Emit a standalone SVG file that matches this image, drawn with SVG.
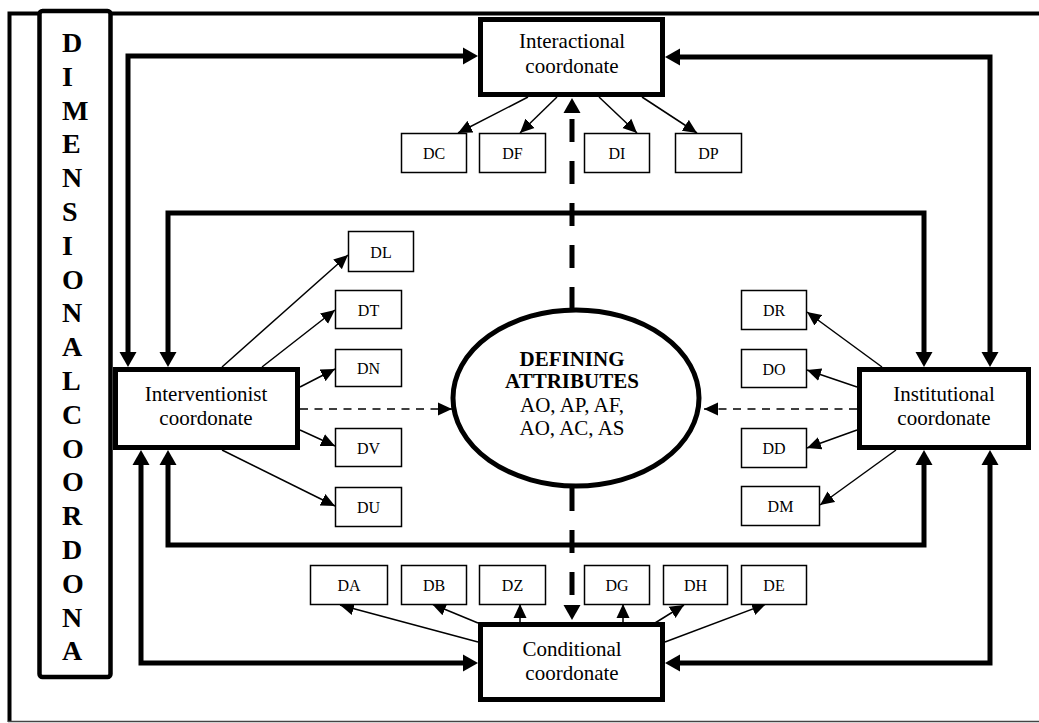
<svg xmlns="http://www.w3.org/2000/svg" width="1039" height="723" viewBox="0 0 1039 723">
<style>
.frame{fill:none;stroke:#000;stroke-width:4}
.big{fill:#fff;stroke:#000;stroke-width:5}
.small{fill:#fff;stroke:#000;stroke-width:1.5}
.thick{fill:none;stroke:#000;stroke-width:5;stroke-linejoin:miter;marker-start:url(#ah);marker-end:url(#ah)}
.thin{fill:none;stroke:#000;stroke-width:1.5;marker-end:url(#as)}
.dthin{fill:none;stroke:#000;stroke-width:1.5;stroke-dasharray:8 6.5;marker-end:url(#as)}
.dthick{fill:none;stroke:#000;stroke-width:5;stroke-dasharray:23 19;marker-end:url(#ah)}
.t{font-family:"Liberation Serif","Times New Roman",serif;font-size:21px;text-anchor:middle;fill:#000}
.b{font-weight:bold}
.s{font-family:"Liberation Serif","Times New Roman",serif;font-size:16px;text-anchor:middle;fill:#000}
.v{font-family:"Liberation Serif","Times New Roman",serif;font-size:28px;font-weight:bold;fill:#000}
</style>
<defs>
<marker id="ah" viewBox="0 -9 16 18" markerWidth="16" markerHeight="18" refX="0" refY="0" orient="auto-start-reverse" markerUnits="userSpaceOnUse">
<path d="M0,-8.5 L15,0 L0,8.5 Z" fill="#000"/>
</marker>
<marker id="as" viewBox="0 -7 14 14" markerWidth="14" markerHeight="14" refX="14" refY="0" orient="auto" markerUnits="userSpaceOnUse">
<path d="M0,-6.5 L14,0 L0,6.5 Z" fill="#000"/>
</marker>
</defs>
<rect width="1039" height="723" fill="#fff"/>
<g id="frame">
<path class="frame" d="M9.5,722 L9.5,13.5 L1039,13.5"/>
<line x1="8" y1="721.5" x2="1039" y2="721.5" stroke="#444" stroke-width="1.5"/>
</g>
<g id="dimension">
<rect x="39.5" y="11" width="71" height="666" rx="3" fill="#fff" stroke="#000" stroke-width="4.5"/>
<text class="v" x="62" y="52">D</text>
<text class="v" x="62" y="85.8">I</text>
<text class="v" x="62" y="119.6">M</text>
<text class="v" x="62" y="153.4">E</text>
<text class="v" x="62" y="187.2">N</text>
<text class="v" x="62" y="221">S</text>
<text class="v" x="62" y="254.8">I</text>
<text class="v" x="62" y="288.6">O</text>
<text class="v" x="62" y="322.4">N</text>
<text class="v" x="62" y="356.2">A</text>
<text class="v" x="62" y="390">L</text>
<text class="v" x="62" y="423.8">C</text>
<text class="v" x="62" y="457.6">O</text>
<text class="v" x="62" y="491.4">O</text>
<text class="v" x="62" y="525.2">R</text>
<text class="v" x="62" y="559">D</text>
<text class="v" x="62" y="592.8">O</text>
<text class="v" x="62" y="626.6">N</text>
<text class="v" x="62" y="660.4">A</text>
</g>
<g id="connectors">
<path class="thick" d="M128,352 L128,56 L463,56"/>
<path class="thick" d="M990,352 L990,57 L680,57"/>
<path class="thick" d="M168,352 L168,213 L924,213 L924,352"/>
<path class="thick" d="M168,465 L168,545 L924,545 L924,465"/>
<path class="thick" d="M141,465 L141,663 L463,663"/>
<path class="thick" d="M990,465 L990,663 L680,663"/>
<path class="dthick" d="M572,310 L572,113"/>
<path class="dthick" d="M572,488 L572,605"/>
<path class="dthin" d="M300,409 L452,409"/>
<path class="dthin" d="M857,409 L704,409"/>
<path class="thin" d="M528,97 L458,133"/>
<path class="thin" d="M557,97 L520,133"/>
<path class="thin" d="M599,97 L637,133"/>
<path class="thin" d="M642,97 L697,133"/>
<path class="thin" d="M222,367 L348,255"/>
<path class="thin" d="M262,367 L335,310"/>
<path class="thin" d="M300,387 L335,369"/>
<path class="thin" d="M300,430 L335,446"/>
<path class="thin" d="M222,450 L335,506"/>
<path class="thin" d="M882,367 L807,312"/>
<path class="thin" d="M857,387 L807,370"/>
<path class="thin" d="M857,430 L807,448"/>
<path class="thin" d="M896,450 L820,505"/>
<path class="thin" d="M478,642 L340,605"/>
<path class="thin" d="M478,623 L432,604"/>
<path class="thin" d="M520,623 L520,604"/>
<path class="thin" d="M623,623 L623,604"/>
<path class="thin" d="M655,623 L684,605"/>
<path class="thin" d="M665,642 L766,604"/>
</g>
<g id="interactional">
<rect class="big" x="480.5" y="19.5" width="182" height="75"/>
<text class="t" x="572" y="48">Interactional</text>
<text class="t" x="572" y="73">coordonate</text>
</g>
<g id="interventionist">
<rect class="big" x="115.5" y="369.5" width="182" height="78"/>
<text class="t" x="206" y="401">Interventionist</text>
<text class="t" x="206" y="425">coordonate</text>
</g>
<g id="institutional">
<rect class="big" x="859.5" y="369.5" width="169" height="78"/>
<text class="t" x="944" y="401">Institutional</text>
<text class="t" x="944" y="425">coordonate</text>
</g>
<g id="conditional">
<rect class="big" x="480.5" y="624.5" width="182" height="75"/>
<text class="t" x="572" y="656">Conditional</text>
<text class="t" x="572" y="680">coordonate</text>
</g>
<g id="defining">
<ellipse class="big" cx="576" cy="398" rx="123" ry="88"/>
<text class="t b" x="572" y="366">DEFINING</text>
<text class="t b" x="572" y="388">ATTRIBUTES</text>
<text class="t" x="572" y="412">AO, AP, AF,</text>
<text class="t" x="572" y="435">AO, AC, AS</text>
</g>
<g id="dc"><rect class="small" x="401.5" y="133.5" width="65" height="39"/><text class="s" x="434" y="159">DC</text></g>
<g id="df"><rect class="small" x="479.5" y="133.5" width="66" height="39"/><text class="s" x="512.5" y="159">DF</text></g>
<g id="di"><rect class="small" x="584.5" y="133.5" width="65" height="39"/><text class="s" x="617" y="159">DI</text></g>
<g id="dp"><rect class="small" x="675.5" y="133.5" width="66" height="39"/><text class="s" x="708.5" y="159">DP</text></g>
<g id="dl"><rect class="small" x="348.5" y="231.5" width="65" height="40"/><text class="s" x="381" y="257.5">DL</text></g>
<g id="dt"><rect class="small" x="335.5" y="290.5" width="66" height="38"/><text class="s" x="368.5" y="315.5">DT</text></g>
<g id="dn"><rect class="small" x="335.5" y="349.5" width="66" height="37"/><text class="s" x="368.5" y="374">DN</text></g>
<g id="dv"><rect class="small" x="335.5" y="428.5" width="66" height="38"/><text class="s" x="368.5" y="453.5">DV</text></g>
<g id="du"><rect class="small" x="335.5" y="487.5" width="66" height="39"/><text class="s" x="368.5" y="513">DU</text></g>
<g id="dr"><rect class="small" x="741.5" y="290.5" width="65" height="39"/><text class="s" x="774" y="316">DR</text></g>
<g id="do"><rect class="small" x="741.5" y="349.5" width="65" height="38"/><text class="s" x="774" y="374.5">DO</text></g>
<g id="dd"><rect class="small" x="741.5" y="428.5" width="65" height="39"/><text class="s" x="774" y="454">DD</text></g>
<g id="dm"><rect class="small" x="741.5" y="486.5" width="78" height="39"/><text class="s" x="780.5" y="512">DM</text></g>
<g id="da"><rect class="small" x="310.5" y="565.5" width="77" height="39"/><text class="s" x="349" y="591">DA</text></g>
<g id="db"><rect class="small" x="401.5" y="565.5" width="65" height="39"/><text class="s" x="434" y="591">DB</text></g>
<g id="dz"><rect class="small" x="479.5" y="565.5" width="66" height="39"/><text class="s" x="512.5" y="591">DZ</text></g>
<g id="dg"><rect class="small" x="584.5" y="565.5" width="65" height="39"/><text class="s" x="617" y="591">DG</text></g>
<g id="dh"><rect class="small" x="663.5" y="565.5" width="64" height="39"/><text class="s" x="695.5" y="591">DH</text></g>
<g id="de"><rect class="small" x="741.5" y="565.5" width="65" height="39"/><text class="s" x="774" y="591">DE</text></g>
</svg>
